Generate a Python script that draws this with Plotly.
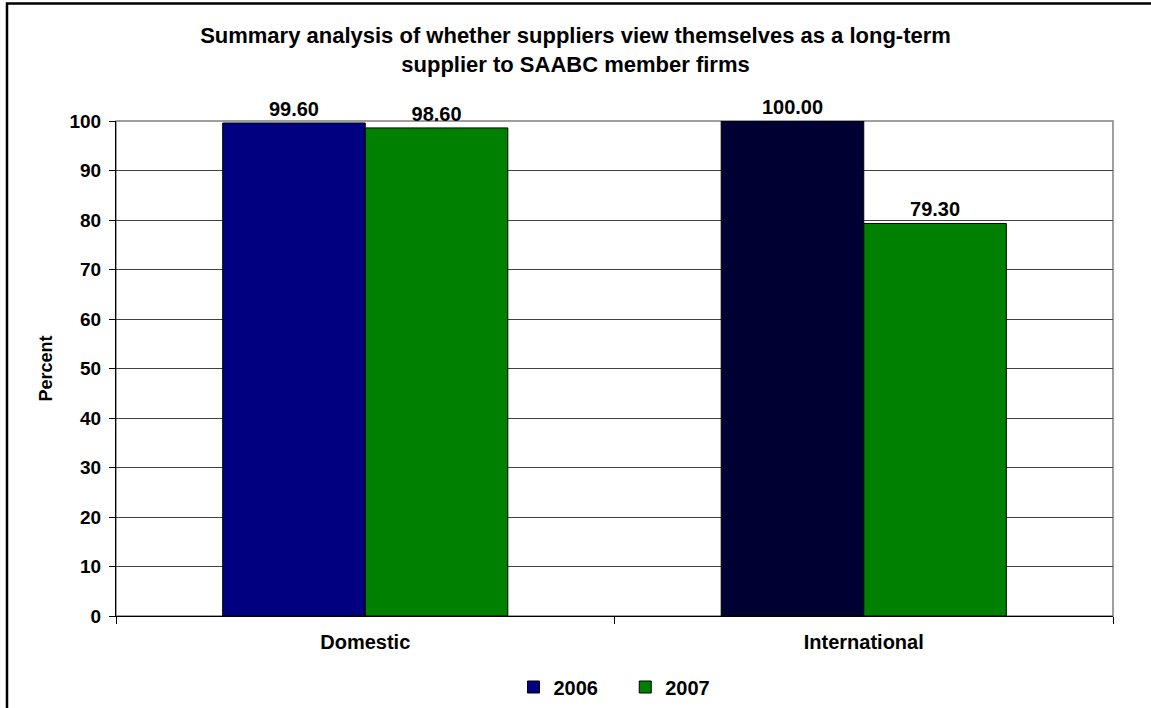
import plotly.graph_objects as go

categories = ["Domestic", "International"]
series_names = ["2006", "2007"]
values_2006 = [99.60, 100.00]
values_2007 = [98.60, 79.30]
colors_2006 = ["#000080", "#000033"]
color_2007 = "#008000"
title_text = "Summary analysis of whether suppliers view themselves as a long-term<br>supplier to SAABC member firms"

FONT = "Liberation Sans, Arial, sans-serif"
label_tmpl = "<b>%{y:.2f}</b>"
NB = "\u00a0"

fig = go.Figure()
fig.add_trace(go.Bar(
    x=categories, y=values_2006, name="<b>" + series_names[0] + "</b>" + NB * 4,
    marker=dict(color=colors_2006, line=dict(color="black", width=1)),
    texttemplate=label_tmpl, textposition="outside",
    textfont=dict(family=FONT, size=20, color="black"),
    cliponaxis=False,
))
fig.add_trace(go.Bar(
    x=categories, y=values_2007, name="<b>" + series_names[1] + "</b>",
    marker=dict(color=color_2007, line=dict(color="black", width=1)),
    texttemplate=label_tmpl, textposition="outside",
    textfont=dict(family=FONT, size=20, color="black"),
    cliponaxis=False,
))

L, R, T, B = 116, 38, 121, 92
W, H = 1151, 708
pw = W - L - R
ph = H - T - B

shapes = [
    dict(type="rect", xref="paper", yref="paper", x0=0, x1=1, y0=0, y1=1,
         line=dict(color="#808080", width=1.5), layer="below"),
    dict(type="rect", xref="paper", yref="paper",
         x0=(7 - L) / pw, x1=(W + 20 - L) / pw,
         y0=-(H + 20 - (T + ph)) / ph, y1=(T + ph - 3.5) / ph,
         line=dict(color="black", width=2.5)),
]

fig.update_layout(
    width=W, height=H,
    margin=dict(l=L, r=R, t=T, b=B),
    paper_bgcolor="white", plot_bgcolor="white",
    barmode="group", bargap=0.428, bargroupgap=0,
    font=dict(family=FONT, color="black"),
    title=dict(text="<b>" + title_text + "</b>", x=0.5, xanchor="center",
               y=1 - 43 / H, yanchor="top",
               font=dict(family=FONT, size=22, color="black")),
    xaxis=dict(
        type="category", tickson="boundaries", ticks="outside", ticklen=7,
        tickcolor="black", showline=True, linecolor="black", linewidth=1,
        showgrid=False, ticklabelstandoff=8,
        tickfont=dict(family=FONT, size=20, color="black"),
        tickprefix="<b>", ticksuffix="</b>",
    ),
    yaxis=dict(
        range=[0, 100], dtick=10, ticks="outside", ticklen=6, tickcolor="black",
        showline=True, linecolor="black", linewidth=1,
        showgrid=True, gridcolor="#404040", gridwidth=1,
        zeroline=False, ticklabelstandoff=4,
        tickfont=dict(family=FONT, size=19, color="black"),
        tickprefix="<b>", ticksuffix="</b>",
        title=dict(text="<b>Percent</b>", font=dict(family=FONT, size=18, color="black"), standoff=12),
    ),
    legend=dict(orientation="h", xref="paper", x=0.5, xanchor="center",
                yref="container", y=(H - 687) / H, yanchor="middle",
                font=dict(family=FONT, size=20, color="black"),
                itemwidth=30, traceorder="normal", itemclick=False),
    shapes=shapes,
    showlegend=True,
)

fig.write_html("out.html", config={"displayModeBar": False},
               post_script="document.body.style.margin='0px';document.body.style.padding='0px';")
